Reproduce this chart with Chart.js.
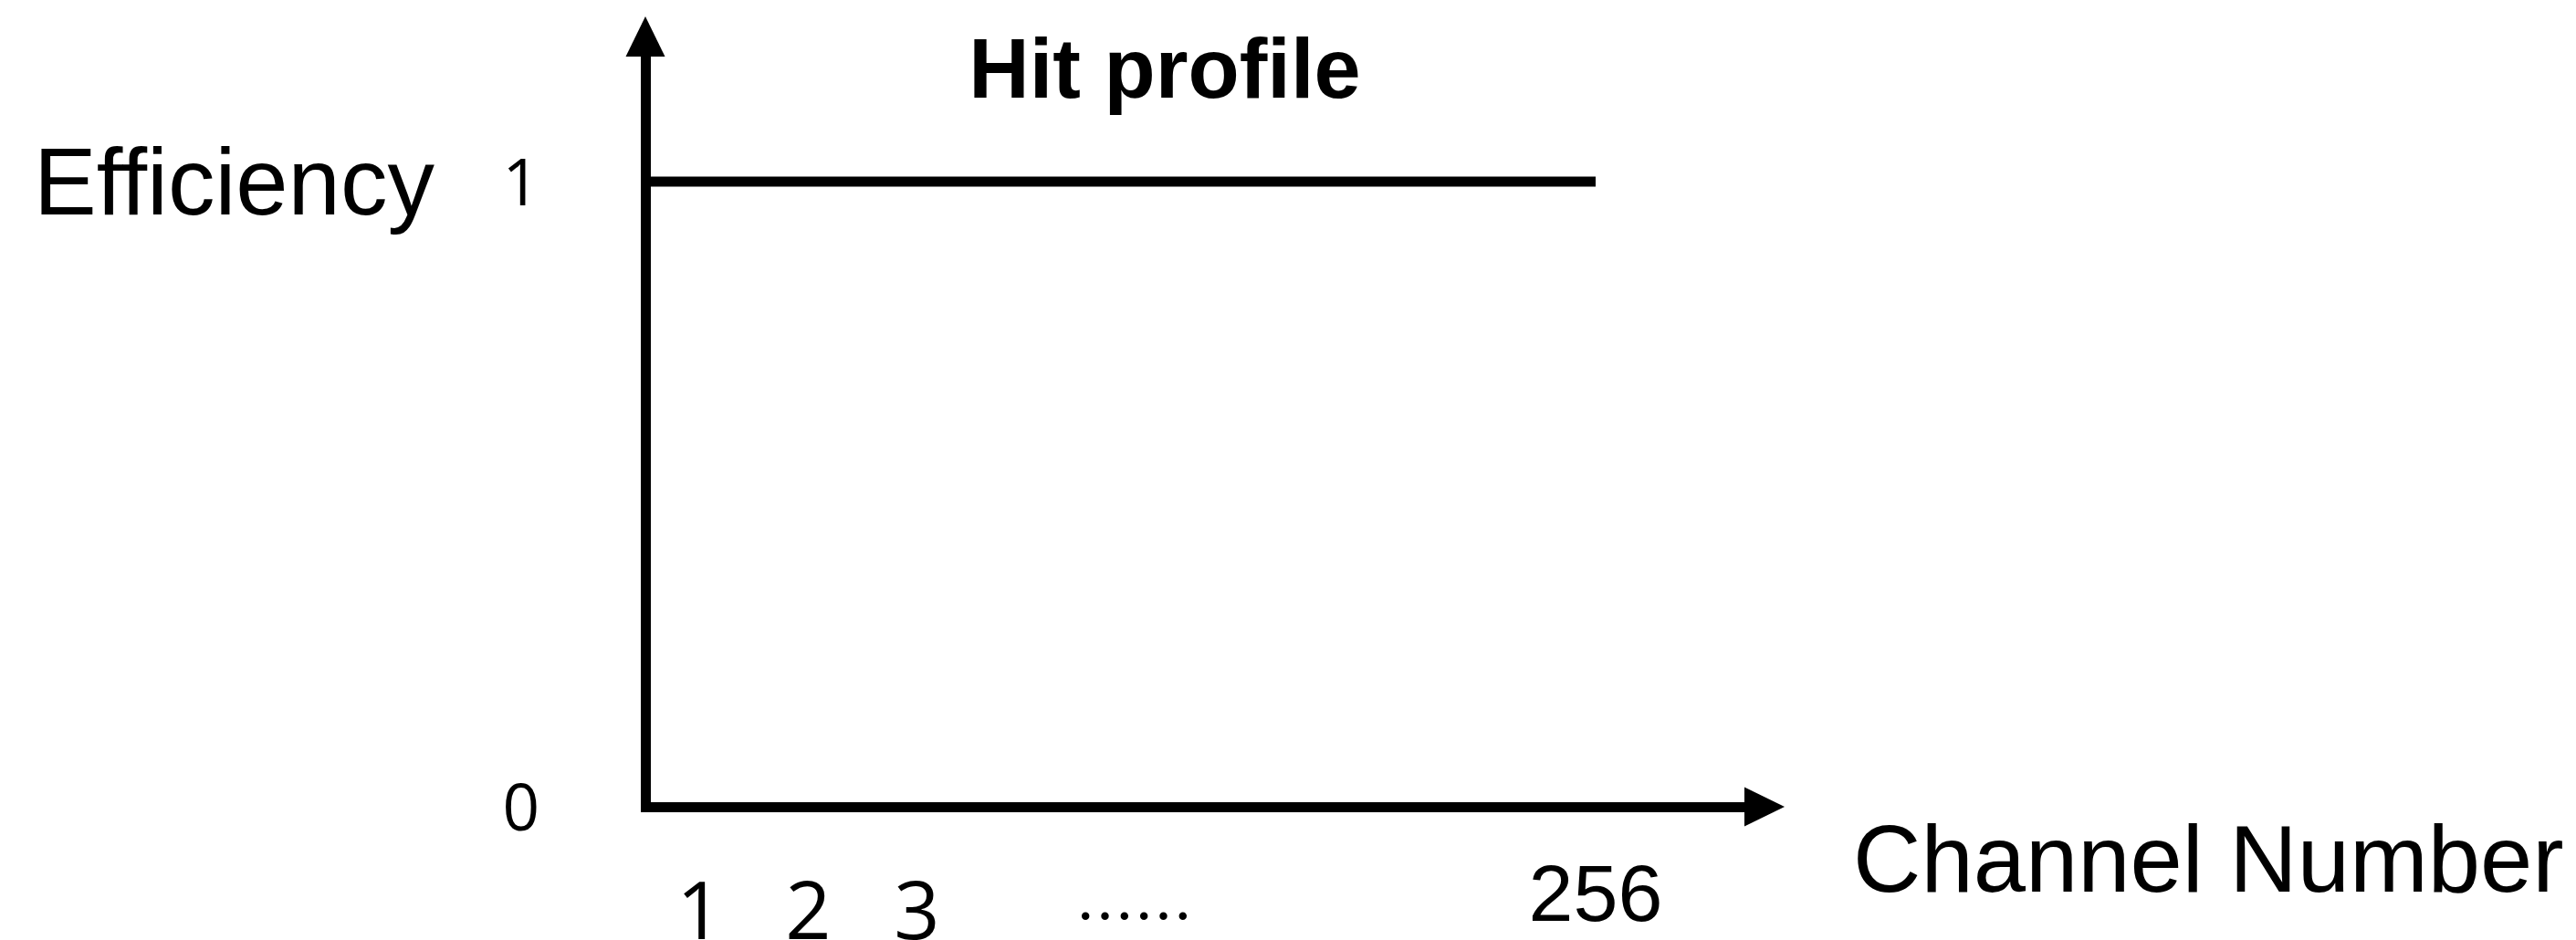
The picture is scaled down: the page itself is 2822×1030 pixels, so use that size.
<!DOCTYPE html>
<html>
<head>
<meta charset="utf-8">
<title>Hit profile</title>
<script src="https://cdn.jsdelivr.net/npm/chart.js@4.4.1/dist/chart.umd.min.js"></script>
<style>
  html, body { margin: 0; padding: 0; background: #fff; }
  #chart { display: block; }
</style>
</head>
<body>
<canvas id="chart" width="2822" height="1030"></canvas>
<script>
// ── data ──
const channelLabels = ['1', '2', '3', '……', '256'];
const channelSlots = [0.5, 1.5, 2.5, 4.5, 8.75];   // where each label sits on the (schematic) channel axis
const efficiencyTicks = [0, 1];
const profileX = [0, 8.75];                          // flat profile from the axis up to channel 256
const profileY = [1, 1];

const CJK = "'Noto Sans CJK JP', sans-serif";
const DIGITS = "'Open Sans', 'Noto Sans', sans-serif";
const LATIN = "'Liberation Sans', Arial, sans-serif";

// arrows + free text (title and horizontal axis titles)
const schematicAxes = {
    id: 'schematicAxes',
    afterDraw(chart) {
        const { ctx, chartArea: a, scales } = chart;
        ctx.save();
        ctx.fillStyle = '#000';

        // y arrow head
        ctx.beginPath();
        ctx.moveTo(a.left - 21.5, a.top);
        ctx.lineTo(a.left + 21.5, a.top);
        ctx.lineTo(a.left, a.top - 44);
        ctx.closePath();
        ctx.fill();

        // x arrow head
        ctx.beginPath();
        ctx.moveTo(a.right, a.bottom - 21.5);
        ctx.lineTo(a.right, a.bottom + 21.5);
        ctx.lineTo(a.right + 44, a.bottom);
        ctx.closePath();
        ctx.fill();

        ctx.textBaseline = 'alphabetic';

        ctx.font = 'bold 92px ' + LATIN;
        ctx.textAlign = 'center';
        ctx.fillText('Hit profile', 1276, 107);

        ctx.textAlign = 'left';
        ctx.font = '103px ' + LATIN;
        ctx.fillText('Efficiency', 37, scales.y.getPixelForValue(1) + 36);

        ctx.font = '103px ' + LATIN;
        ctx.fillText('Channel Number', 2030, a.bottom + 93);
        ctx.restore();
    }
};

new Chart(document.getElementById('chart'), {
    type: 'line',
    data: {
        datasets: [{
            label: 'Hit profile',
            data: profileX.map((x, i) => ({ x, y: profileY[i] })),
            borderColor: '#000',
            borderWidth: 11,
            borderCapStyle: 'butt',
            pointRadius: 0,
            fill: false,
            tension: 0
        }]
    },
    options: {
        responsive: false,
        animation: false,
        devicePixelRatio: 1,
        layout: { padding: { top: 62, right: 911, bottom: 0, left: 0 } },
        plugins: {
            legend: { display: false },
            tooltip: { enabled: false },
            title: { display: false }
        },
        scales: {
            x: {
                type: 'linear',
                min: 0,
                max: 10.12,
                grid: { display: false, drawTicks: false },
                border: { display: true, color: '#000', width: 11 },
                afterBuildTicks: (s) => { s.ticks = channelSlots.map(v => ({ value: v })); },
                afterFit: (s) => { s.height = 146; s.paddingLeft = 0; s.paddingRight = 0; },
                ticks: {
                    autoSkip: false,
                    maxRotation: 0,
                    padding: 57,
                    color: '#000',
                    callback: (v, i) => channelLabels[i],
                    font: (c) => {
                        const label = c.tick ? channelLabels[channelSlots.indexOf(c.tick.value)] : '';
                        if (label === '256') return { family: LATIN, size: 88, lineHeight: 1.0 };
                        if (label === '……') return { family: CJK, size: 64, lineHeight: 1.95 };
                        return { family: DIGITS, size: 88, lineHeight: 1.42 };
                    }
                }
            },
            y: {
                type: 'linear',
                min: 0,
                max: 1.2,
                grid: { display: false, drawTicks: false },
                border: { display: true, color: '#000', width: 11 },
                afterBuildTicks: (s) => { s.ticks = efficiencyTicks.map(v => ({ value: v })); },
                afterFit: (s) => { s.width = 707; s.paddingTop = 0; s.paddingBottom = 0; },
                ticks: {
                    padding: 116,
                    labelOffset: 6,
                    color: '#000',
                    font: { family: DIGITS, size: 71 },
                    callback: (v) => String(v)
                }
            }
        }
    },
    plugins: [schematicAxes]
});
</script>
</body>
</html>
